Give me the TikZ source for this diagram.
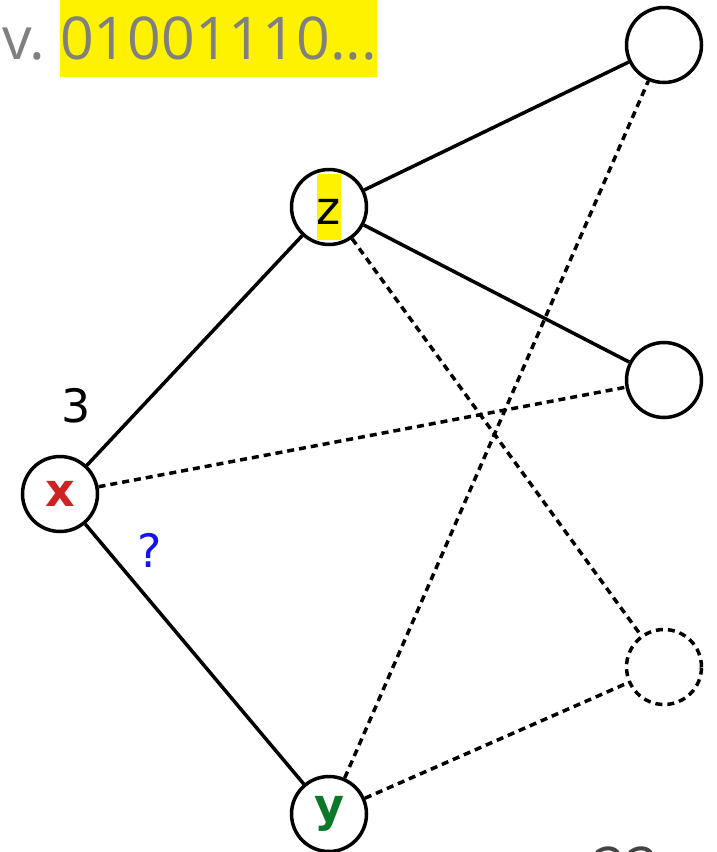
\documentclass[tikz,border=0pt]{standalone}
\usepackage{fontspec}
\newfontfamily\dv{DejaVu Sans}
\newfontfamily\os{Open Sans}
\definecolor{txtgray}{RGB}{128,128,128}
\definecolor{dkgray}{RGB}{68,68,68}
\definecolor{xred}{RGB}{205,35,35}
\definecolor{ygreen}{RGB}{10,120,40}
\definecolor{qblue}{RGB}{20,20,240}
\begin{document}
\begin{tikzpicture}[x=1pt,y=-1pt,
  vert/.style={circle,draw,line width=3.5pt,minimum size=75pt,inner sep=0pt,fill=white},
  ghost/.style={vert,dash pattern=on 7pt off 5pt},
  solidedge/.style={line width=3.5pt},
  dashedge/.style={line width=3.5pt,dash pattern=on 7pt off 5pt},
  lbl/.style={font=\dv\fontsize{46}{55}\selectfont,inner sep=0pt}
]
\useasboundingbox (0,0) rectangle (716,852);
\clip (0,0) rectangle (716,852);
% nodes
\node[vert] (tr) at (664,45) {};
\node[vert] (rm) at (664,380) {};
\node[ghost] (gh) at (664,667) {};
\node[vert] (z) at (329,207) {\dv\fontsize{46}{55}\selectfont\setlength\fboxsep{0pt}\colorbox{yellow}{\rule[-16pt]{0pt}{66pt}z}};
\node[vert] (x) at (60,494) {\dv\bfseries\fontsize{46}{55}\selectfont\textcolor{xred}{x}};
\node[vert] (y) at (329,814) {\dv\bfseries\fontsize{46}{55}\selectfont\textcolor{ygreen}{y}};
% edges
\draw[dashedge] (x) -- (rm);
\draw[dashedge] (z) -- (gh);
\draw[dashedge] (y) -- (tr);
\draw[dashedge] (y) -- (gh);
\draw[solidedge] (z) -- (tr);
\draw[solidedge] (z) -- (rm);
\draw[solidedge] (x) -- (z);
\draw[solidedge] (x) -- (y);
% labels
\node[lbl,anchor=base] (three) at (76,422) {3};
\node[lbl,anchor=base,text=qblue] (q) at (150,567) {?};
% title
\node[anchor=base west,inner sep=0pt,text=txtgray,font=\os\fontsize{59}{71}\selectfont] (v) at (2,59) {v.};
\node[anchor=base west,inner ysep=17pt,inner xsep=0pt,fill=yellow,text=txtgray,font=\os\fontsize{59}{71}\selectfont] (bits) at (60,59) {01001110...};
\node[anchor=base west,inner sep=0pt,text=dkgray,font=\os\fontsize{59}{71}\selectfont] (pg) at (592,889) {22};
\end{tikzpicture}
\end{document}
